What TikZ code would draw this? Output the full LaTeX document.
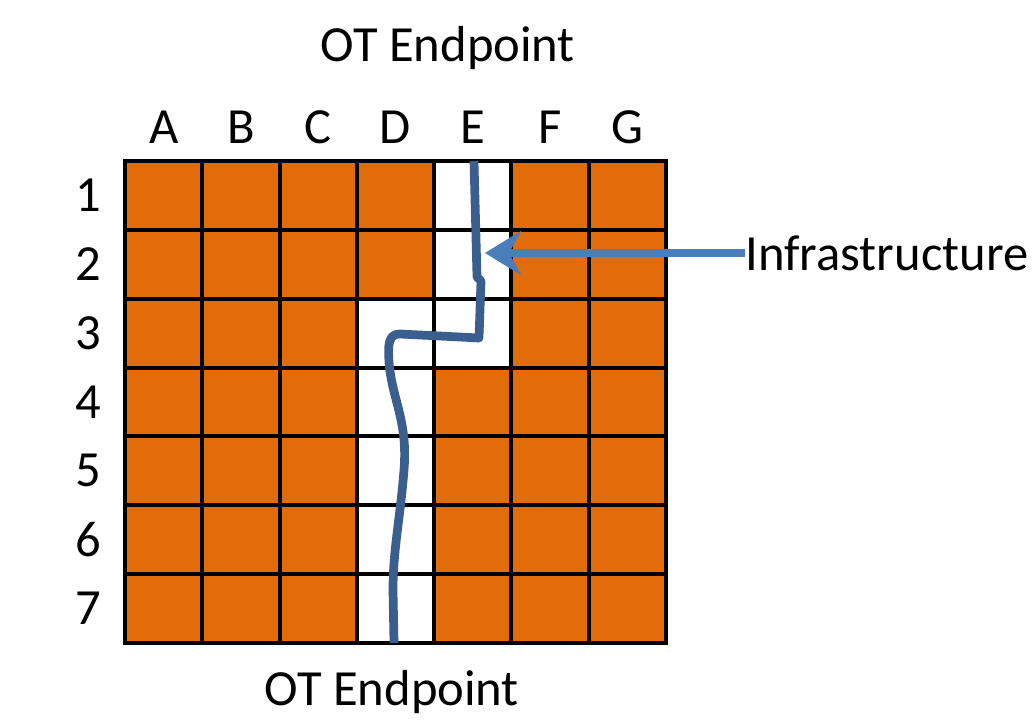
\documentclass[tikz,border=0pt]{standalone}
\usepackage{fontspec}
\setmainfont{Carlito}
\usetikzlibrary{positioning,arrows.meta}
\definecolor{cellorange}{HTML}{E26C0A}
\definecolor{routeblue}{HTML}{3A5F8E}
\definecolor{arrowblue}{HTML}{4A7EBB}

\begin{document}
\begin{tikzpicture}[x=0.025cm, y=-0.025cm,
    cellbox/.style={draw=black, line width=2.8pt, minimum width=1.933cm, minimum height=1.722cm, inner sep=0pt, outer sep=0pt},
    labeltext/.style={font=\fontsize{36}{40}\selectfont, inner sep=0pt},
    arrowstyle/.style={-{Stealth[length=9mm, width=11mm, inset=3mm]}, line width=6pt, draw=arrowblue}]
  \useasboundingbox (0,0) rectangle (1032,720);

  % The grid of cells, white where the route passes
  \foreach \c [count=\i from 0] in {A,B,C,D,E,F,G} {
    \foreach \r in {1,...,7} {
      \def\cellfill{cellorange}
      \ifnum\i=4 \ifnum\r<4 \def\cellfill{white}\fi\fi
      \ifnum\i=3 \ifnum\r>2 \def\cellfill{white}\fi\fi
      \node (cell\c\r) [cellbox, fill=\cellfill] at ({125+77.29*(\i+0.5)}, {161+68.86*(\r-0.5)}) {};
    }
    % column letters
    \node (col\c) [labeltext] at ({125+77.29*(\i+0.5)}, 127) {\c};
  }
  % row numbers
  \foreach \r in {1,...,7}
    \node (row\r) [labeltext] at (88, {161+68.86*(\r-0.5)}) {\r};

  % Labels
  \node (topend) [labeltext] at (448, 48) {OT Endpoint};
  \node (botend) [labeltext] at (392, 692) {OT Endpoint};
  \node (infra)  [labeltext, anchor=west] at (745, 253) {Infrastructure};

  % The route from endpoint to endpoint
  \draw[routeblue, line width=6.2pt, line join=round]
    (474,161) -- (477,277) -- (481,281) -- (479,338) -- (400,334)
    .. controls (388,334) and (388,345) .. (389,362)
    .. controls (392,400) and (408,420) .. (404,470)
    .. controls (400,520) and (393,550) .. (393,590) -- (394,643);

  % Arrow pointing at the route
  \coordinate (infratip) at (485,253);
  \draw[arrowstyle] (infra.west) ++(-0.5,0) -- (infratip);
\end{tikzpicture}
\end{document}
